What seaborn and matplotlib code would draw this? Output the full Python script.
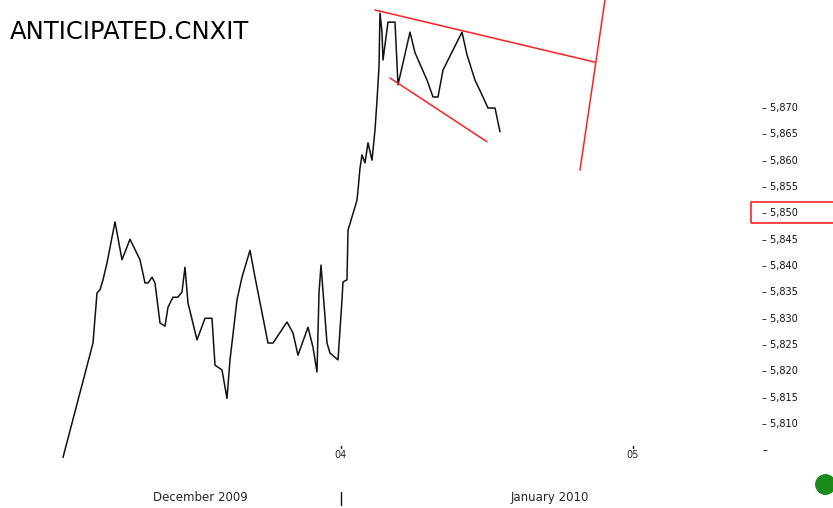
import matplotlib
matplotlib.use("Agg")
import matplotlib.pyplot as plt
import seaborn as sns
import pandas as pd
from matplotlib.patches import Rectangle

# bar position (chart time axis) and price
bar = [63, 93, 97, 100, 103, 107, 115, 122, 130, 140, 145, 148, 152, 155, 160, 165, 168, 173, 178, 182,
       185, 188, 197, 205, 212, 215, 222, 227, 230, 237, 242, 250, 255, 268, 273, 287, 293, 298, 308, 313,
       317, 319, 321, 327, 330, 338, 342, 343, 347, 348, 357, 358, 360, 362, 365, 368, 372, 375, 377, 379,
       380, 382, 383, 388, 395, 398, 410, 415, 427, 433, 438, 443, 453, 462, 467, 475, 482, 488, 495, 500]
price = [5803.5, 5825.2, 5834.7, 5835.3, 5837.2, 5840.4, 5848.2, 5841.0, 5844.9, 5841.0,
         5836.6, 5836.6, 5837.7, 5836.6, 5829.0, 5828.4, 5832.0, 5833.9, 5833.9, 5834.9,
         5839.6, 5832.8, 5825.8, 5829.9, 5829.9, 5821.0, 5820.1, 5814.7, 5822.0, 5833.4,
         5837.7, 5842.8, 5837.7, 5825.2, 5825.2, 5829.2, 5827.1, 5822.9, 5828.2, 5824.4,
         5819.7, 5834.7, 5840.0, 5825.2, 5823.3, 5822.0, 5833.4, 5836.8, 5837.2, 5846.6,
         5852.3, 5854.2, 5858.4, 5860.9, 5859.4, 5863.2, 5859.9, 5865.6, 5871.3, 5877.6,
         5887.8, 5884.2, 5878.9, 5886.1, 5886.1, 5874.2, 5884.2, 5880.3, 5875.1, 5871.9,
         5871.9, 5877.0, 5880.8, 5884.2, 5879.9, 5875.1, 5872.3, 5869.8, 5869.8, 5865.3]

# hand drawn trend lines (start bar, end bar, start price, end price)
trend_top = ([375, 595], [5888.4, 5878.5])
trend_low = ([390, 487], [5875.5, 5863.4])
trend_vert = ([605, 580], [5890.3, 5858.0])

yticks = [5870, 5865, 5860, 5855, 5850, 5845, 5840, 5835, 5830, 5825, 5820, 5815, 5810, 5805]
ylabels = ["5,870", "5,865", "5,860", "5,855", "5,850", "5,845", "5,840", "5,835",
           "5,830", "5,825", "5,820", "5,815", "5,810", ""]
day_ticks = [341, 633]
day_labels = ["04", "05"]
month_pos = [200, 550]
month_labels = ["December 2009", "January 2010"]

sns.set_style("white")
plt.rcParams['font.family'] = ['DejaVu Sans']

fig = plt.figure(figsize=(8.33, 5.08), dpi=100)
ax = fig.add_axes([0, 0, 1, 1])

df = pd.DataFrame({"bar": bar, "price": price})
sns.lineplot(data=df, x="bar", y="price", sort=False, estimator=None, color="#111111", linewidth=1.1, ax=ax)

for xs, ys in [trend_top, trend_low, trend_vert]:
    ax.plot(xs, ys, color="#ff2020", linewidth=1.1)

ax.set_xlim(0, 833)
ax.set_ylim(5793.9, 5890.3)
for s in ax.spines.values():
    s.set_visible(False)
ax.set_xlabel("")
ax.set_ylabel("")

# price scale on the right, inside the plot
ax.yaxis.tick_right()
ax.set_yticks(yticks, ["\u2013 " + l if l else "\u2013" for l in ylabels])
ax.tick_params(axis="y", length=0, pad=-51, labelsize=7, labelcolor="#111111")
for lab in ax.get_yticklabels():
    lab.set_horizontalalignment("left")

# time scale at the bottom
ax.set_xticks(day_ticks, day_labels)
ax.tick_params(axis="x", which="major", length=0, pad=-42, labelsize=7)
ax.set_xticks(month_pos, month_labels, minor=True)
ax.tick_params(axis="x", which="minor", length=0, pad=-12, labelsize=8.5)
ax.axvline(day_ticks[0], ymin=0.006, ymax=0.032, color="#111111", linewidth=1)
for d in day_ticks:
    ax.axvline(d, ymin=0.118, ymax=0.122, color="#111111", linewidth=1)

# highlighted current price box
ax.add_patch(Rectangle((751 / 833, (508 - 223) / 508), 0.12, 21 / 508, transform=ax.transAxes,
                       fill=False, edgecolor="#ff2020", linewidth=1.2, clip_on=False))

# status light
ax.plot(825 / 833, (508 - 484) / 508, "o", transform=ax.transAxes, markersize=14,
        color="#1a8a1a", clip_on=False)

ax.text(10 / 833, (508 - 32) / 508, "ANTICIPATED.CNXIT", transform=ax.transAxes,
        fontsize=17.5, va="center", ha="left", color="#000000")

fig.savefig("out.png", dpi=100)
